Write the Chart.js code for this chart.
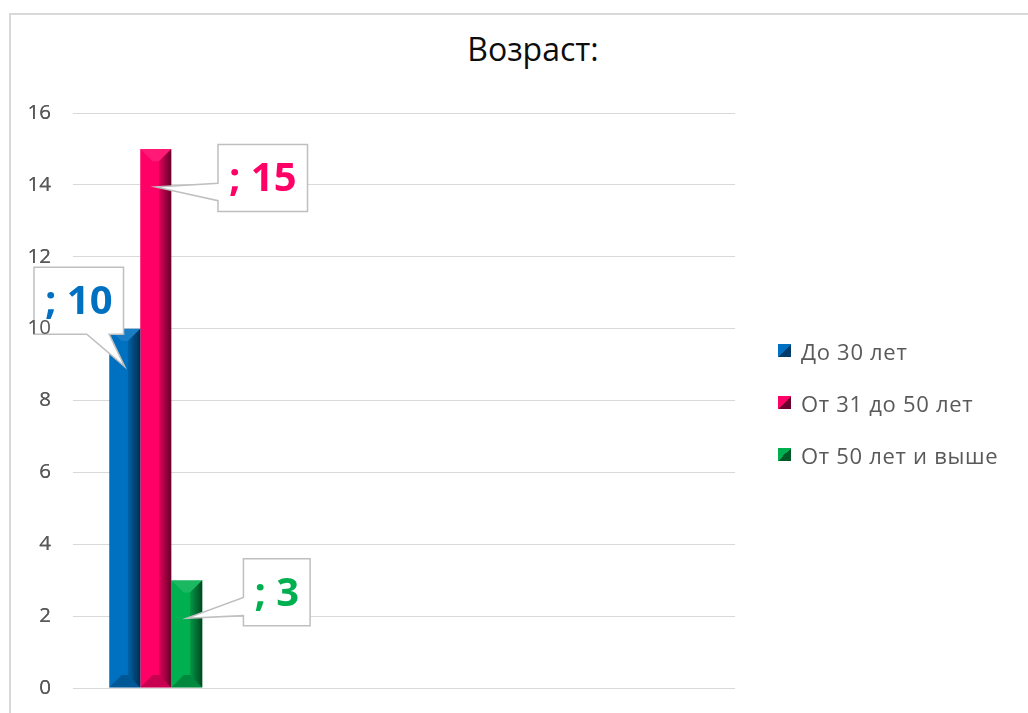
<!DOCTYPE html>
<html>
<head>
<meta charset="utf-8">
<script src="https://cdn.jsdelivr.net/npm/chart.js@4.4.1/dist/chart.umd.min.js"></script>
<style>
    html, body { margin: 0; padding: 0; overflow: hidden; background: #fff; }
    body { width: 1028px; height: 713px; position: relative; font-family: "Open Sans", sans-serif; }
    .frame { position: absolute; left: 9px; top: 13px; width: 1060px; height: 760px; border: 2px solid #d9d9d9; box-sizing: border-box; }
    .chartBox { position: absolute; left: 0; top: 0; width: 1056px; height: 756px; }
    .title { position: absolute; left: 0; top: 29px; width: 1066px; text-align: center; font-size: 32px; line-height: 40px; color: #0d0d0d; }
    .legend { position: absolute; left: 778px; top: 340px; }
    .legend .item { position: absolute; left: 0; height: 24px; white-space: nowrap; }
    .legend .box { position: absolute; left: 0; top: 4px; width: 13px; height: 13px; }
    .legend .txt { position: absolute; left: 23px; top: -1px; font-size: 22px; line-height: 24px; letter-spacing: 0.7px; color: #595959; }
</style>
</head>
<body>
<div class="title">Возраст:</div>
<div class="frame">
    <div class="chartBox"><canvas id="myChart"></canvas></div>
</div>
<div class="legend" id="legend"></div>

<script>
// данные диаграммы
const categories = ['', '', '', ''];
const seriesNames = ['До 30 лет', 'От 31 до 50 лет', 'От 50 лет и выше'];
const under30 = [10];
const from31to50 = [15];
const over50 = [3];
const yTicks = [0, 2, 4, 6, 8, 10, 12, 14, 16];

const colors = ['#0070C0', '#FF0066', '#00B050'];
const shades = ['#003d6b', '#6b0030', '#005a28'];

// выноски: смещение от верха столбца, сторона хвоста
const callouts = [
    { dx: -46, dy: -28, side: 'bottom', f1: 0.59, f2: 0.84 },
    { dx: 107, dy: 29, side: 'left', f1: 0.58, f2: 0.84 },
    { dx: 90, dy: 12, side: 'left', f1: 0.58, f2: 0.85 }
];

const bevelPlugin = {
    id: 'bevel',
    afterDatasetsDraw(chart) {
        const ctx = chart.ctx;
        chart.data.datasets.forEach((ds, i) => {
            chart.getDatasetMeta(i).data.forEach(bar => {
                const { x, y, base, width } = bar.getProps(['x', 'y', 'base', 'width'], true);
                const l = x - width / 2, r = x + width / 2;
                const d = Math.min(width * 0.4, (base - y) / 2);
                ctx.save();
                // правая грань
                const g = ctx.createLinearGradient(r - d, 0, r, 0);
                g.addColorStop(0, 'rgba(0,0,0,0.12)');
                g.addColorStop(1, 'rgba(0,0,0,0.6)');
                ctx.fillStyle = g;
                ctx.beginPath();
                ctx.moveTo(r, y); ctx.lineTo(r, base); ctx.lineTo(r - d, base - d); ctx.lineTo(r - d, y + d);
                ctx.closePath(); ctx.fill();
                // верхняя грань
                ctx.fillStyle = 'rgba(255,255,255,0.1)';
                ctx.beginPath();
                ctx.moveTo(l, y); ctx.lineTo(r, y); ctx.lineTo(r - d, y + d); ctx.lineTo(l + d, y + d);
                ctx.closePath(); ctx.fill();
                // нижняя грань
                ctx.fillStyle = 'rgba(0,0,0,0.22)';
                ctx.beginPath();
                ctx.moveTo(l, base); ctx.lineTo(r, base); ctx.lineTo(r - d, base - d); ctx.lineTo(l + d, base - d);
                ctx.closePath(); ctx.fill();
                ctx.restore();
            });
        });
    }
};

const calloutPlugin = {
    id: 'callouts',
    afterDatasetsDraw(chart) {
        const ctx = chart.ctx;
        ctx.save();
        ctx.font = 'bold 40px "Open Sans"';
        chart.data.datasets.forEach((ds, i) => {
            const c = callouts[i];
            chart.getDatasetMeta(i).data.forEach((bar, j) => {
                const value = ds.data[j];
                if (value == null) return;
                const text = `${categories[j]}; ${value}`;
                const w = ctx.measureText(text).width + 22, h = 67;
                const cx = bar.x + c.dx, cy = bar.y + c.dy;
                const L = cx - w / 2, T = cy - h / 2, R = cx + w / 2, B = cy + h / 2;
                const tx = bar.x, ty = bar.y + 38;

                ctx.beginPath();
                ctx.moveTo(L, T);
                ctx.lineTo(R, T);
                ctx.lineTo(R, B);
                if (c.side === 'bottom') {
                    ctx.lineTo(L + c.f2 * w, B);
                    ctx.lineTo(tx, ty);
                    ctx.lineTo(L + c.f1 * w, B);
                    ctx.lineTo(L, B);
                } else {
                    ctx.lineTo(L, B);
                    ctx.lineTo(L, T + c.f2 * h);
                    ctx.lineTo(tx, ty);
                    ctx.lineTo(L, T + c.f1 * h);
                }
                ctx.closePath();
                ctx.fillStyle = '#fff';
                ctx.fill();
                ctx.lineWidth = 1.5;
                ctx.strokeStyle = '#bfbfbf';
                ctx.stroke();

                ctx.fillStyle = colors[i];
                ctx.textAlign = 'center';
                ctx.textBaseline = 'middle';
                ctx.fillText(text, cx, cy + 2);
            });
        });
        ctx.restore();

        // подписи оси поверх выносок, как в оригинале
        chart.scales.y.drawLabels(chart.chartArea);
    }
};

const chart = new Chart(document.getElementById('myChart'), {
    type: 'bar',
    data: {
        labels: categories,
        datasets: [under30, from31to50, over50].map((data, i) => ({
            label: seriesNames[i],
            data,
            backgroundColor: colors[i],
            borderWidth: 0,
            categoryPercentage: 0.562,
            barPercentage: 1
        }))
    },
    options: {
        responsive: true,
        maintainAspectRatio: false,
        animation: false,
        layout: { padding: { left: 17, right: 332, top: 98, bottom: 83 } },
        plugins: {
            legend: { display: false },
            title: { display: false },
            tooltip: { enabled: false }
        },
        scales: {
            x: { display: false },
            y: {
                min: 0,
                max: 16,
                afterBuildTicks: s => { s.ticks = yTicks.map(v => ({ value: v })); },
                afterFit: s => { s.width = 45; },
                border: { display: false },
                grid: { color: '#d9d9d9', lineWidth: 1, drawTicks: false },
                ticks: {
                    padding: 22,
                    color: '#595959',
                    font: { family: '"Open Sans"', size: 20.5 }
                }
            }
        }
    },
    plugins: [bevelPlugin, calloutPlugin]
});

// легенда справа
const legendEl = document.getElementById('legend');
chart.options.plugins.legend.labels.generateLabels(chart).forEach((item, i) => {
    const row = document.createElement('div');
    row.className = 'item';
    row.style.top = (i * 52) + 'px';
    const box = document.createElement('span');
    box.className = 'box';
    box.style.background = `linear-gradient(to bottom right, ${colors[i]} 50%, ${shades[i]} 50%)`;
    const txt = document.createElement('span');
    txt.className = 'txt';
    txt.textContent = item.text;
    row.appendChild(box);
    row.appendChild(txt);
    legendEl.appendChild(row);
});
</script>
</body>
</html>
